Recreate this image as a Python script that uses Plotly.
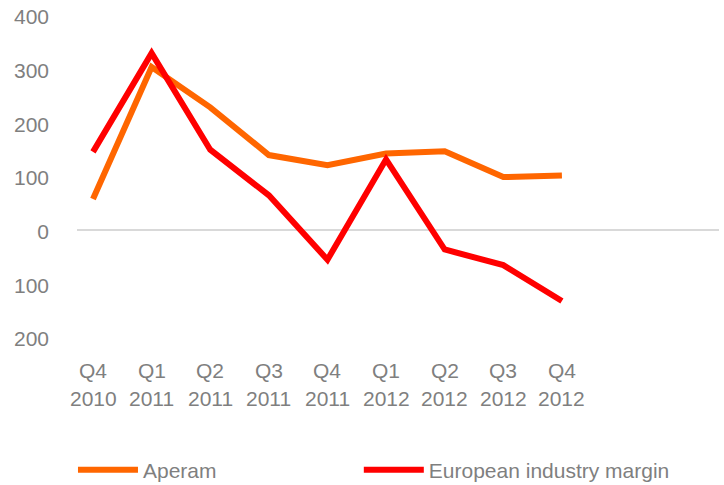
import plotly.graph_objects as go

quarters = ["Q4", "Q1", "Q2", "Q3", "Q4", "Q1", "Q2", "Q3", "Q4"]
years = ["2010", "2011", "2011", "2011", "2011", "2012", "2012", "2012", "2012"]
categories = [f"{q} {y}" for q, y in zip(quarters, years)]

aperam = [57, 303, 228, 139, 120, 142, 146, 98, 101]
european_margin = [145, 329, 149, 64, -56, 131, -37, -66, -133]

y_tickvals = [400, 300, 200, 100, 0, -100, -200]
y_ticktext = ["400", "300", "200", "100", "0", "100", "200"]

GRAY = "#7f7f7f"
FONT = "Liberation Sans, Arial, sans-serif"
FS = 21

fig = go.Figure()
fig.add_trace(go.Scatter(x=categories, y=aperam, mode="lines", name="Aperam",
                         line=dict(color="#FF6600", width=6), legend="legend"))
fig.add_trace(go.Scatter(x=categories, y=european_margin, mode="lines",
                         name="European industry margin",
                         line=dict(color="#FF0000", width=6), legend="legend2"))

for c, q, y in zip(categories, quarters, years):
    fig.add_annotation(x=c, xref="x", y=-0.1025, yref="paper", text=q,
                       showarrow=False, yanchor="middle",
                       font=dict(family=FONT, size=FS, color=GRAY))
    fig.add_annotation(x=c, xref="x", y=-0.1925, yref="paper", text=y,
                       showarrow=False, yanchor="middle",
                       font=dict(family=FONT, size=FS, color=GRAY))

legend_common = dict(orientation="h", xref="container", yref="container",
                     xanchor="left", yanchor="middle", itemwidth=60,
                     font=dict(family=FONT, size=FS, color=GRAY),
                     bgcolor="rgba(0,0,0,0)")

fig.update_layout(
    width=724, height=485,
    margin=dict(l=77, r=5, t=15, b=148, autoexpand=False),
    paper_bgcolor="white", plot_bgcolor="white",
    font=dict(family=FONT, size=FS, color=GRAY),
    showlegend=True,
    legend=dict(x=0.1008, y=0.0309, **legend_common),
    legend2=dict(x=0.4956, y=0.0309, **legend_common),
    xaxis=dict(range=[-0.273, 10.68], showgrid=False, showline=False,
               showticklabels=False, ticks="", zeroline=False,
               automargin=False),
    yaxis=dict(range=[-200, 400], tickvals=y_tickvals, ticktext=y_ticktext,
               showgrid=False, showline=False, ticks="",
               zeroline=True, zerolinecolor="#d9d9d9", zerolinewidth=1.5,
               ticklabelstandoff=27, ticklabelshift=2, automargin=False,
               ticklabeloverflow="allow",
               tickfont=dict(family=FONT, size=FS, color=GRAY)),
)

# remove the page's default 8px body margin so the figure fills the window
fig.write_html("out.html", config={"displayModeBar": False},
               post_script="document.body.style.margin='0';")
